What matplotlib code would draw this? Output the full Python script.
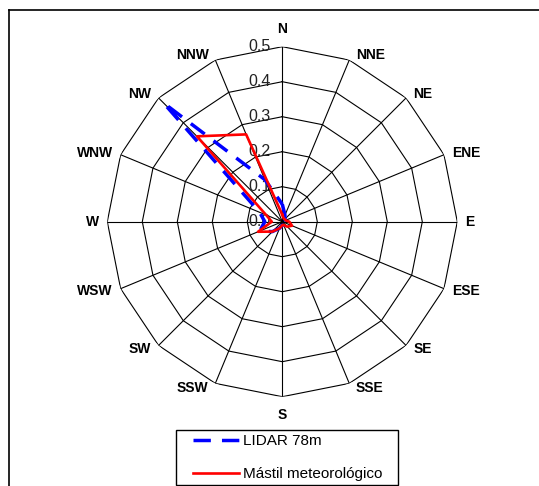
import numpy as np
import matplotlib
matplotlib.use("Agg")
import matplotlib.pyplot as plt
from matplotlib.lines import Line2D
from matplotlib.patches import Rectangle
from matplotlib.transforms import offset_copy

plt.rcParams['font.family'] = ['Liberation Sans', 'DejaVu Sans']

# direcciones y frecuencias relativas
directions = ['N', 'NNE', 'NE', 'ENE', 'E', 'ESE', 'SE', 'SSE',
              'S', 'SSW', 'SW', 'WSW', 'W', 'WNW', 'NW', 'NNW']
lidar_78m = [0.05, 0.02, 0.01, 0.01, 0.02, 0.02, 0.01, 0.01,
             0.01, 0.02, 0.04, 0.07, 0.05, 0.07, 0.48, 0.13]
mastil = [0.02, 0.01, 0.01, 0.01, 0.02, 0.03, 0.02, 0.01,
          0.01, 0.02, 0.04, 0.075, 0.03, 0.05, 0.345, 0.27]
rings = [0.1, 0.2, 0.3, 0.4, 0.5]
ring_labels = ['0.0', '0.1', '0.2', '0.3', '0.4', '0.5']

W, H = 539, 486
fig = plt.figure(figsize=(W / 100, H / 100), dpi=100)

# polar axes placed so centre ~ (282, 222) px, radius 175 px
cx, cy, R = 282.3, 221.7, 175
ax = fig.add_axes([(cx - R) / W, (H - cy - R) / H, 2 * R / W, 2 * R / H],
                  projection='polar')
ax.set_theta_zero_location('N')
ax.set_theta_direction(-1)
ax.set_ylim(0, 0.5)
ax.grid(False)
ax.set_xticks([])
ax.set_yticks([])
ax.spines['polar'].set_visible(False)

theta = np.linspace(0, 2 * np.pi, len(directions), endpoint=False)
theta_c = np.append(theta, theta[0])

# polygon grid
for r in rings:
    ax.plot(theta_c, [r] * len(theta_c), color='black', lw=0.8, zorder=1)
for t in theta:
    ax.plot([t, t], [0, 0.5], color='black', lw=0.8, zorder=1)

# series
l1, = ax.plot(theta_c, lidar_78m + lidar_78m[:1], color='#0000FF', lw=2.5,
              dashes=(5.0, 3.2), zorder=3, label='LIDAR 78m')
l2, = ax.plot(theta_c, mastil + mastil[:1], color='#FF0000', lw=1.9,
              zorder=4, label='Mástil meteorológico')

# radial tick labels
tick_tr = offset_copy(ax.transData, fig=fig, x=-12, y=0, units='dots')
for i, lab in enumerate(ring_labels):
    ax.text(0, i * 0.1, lab, transform=tick_tr, ha='right', va='center',
            fontsize=11.5, color='#222222', zorder=2)

# direction labels
for t, lab in zip(theta, directions):
    s, c = np.sin(t), np.cos(t)
    if abs(s) < 0.01:
        ox, oy, ha = 0, 18 * np.sign(c), 'center'
    else:
        ox = np.sign(s) * (6 + 2 * abs(s))
        oy = 5 * c
        ha = 'left' if s > 0 else 'right'
    tr = offset_copy(ax.transData, fig=fig, x=ox, y=oy, units='dots')
    ax.text(t, 0.5, lab, transform=tr, ha=ha, va='center', fontsize=10,
            fontweight='bold', color='black')

# legend
fig.legend(handles=[l1, l2], loc='center left',
           bbox_to_anchor=(193 / W, (H - 457.5) / H), frameon=False,
           fontsize=11, handlelength=3.0, handletextpad=0.3,
           labelspacing=1.25, borderpad=0, borderaxespad=0)
fig.add_artist(Rectangle((176 / W, 1 / H), 222 / W, 55 / H,
                         transform=fig.transFigure, fill=False,
                         edgecolor='black', lw=1))

# outer frame (top and left only visible)
fig.add_artist(Line2D([8.5 / W, 1], [1 - 10.5 / H] * 2,
                      transform=fig.transFigure, color='black', lw=1.2))
fig.add_artist(Line2D([8.5 / W] * 2, [0, 1 - 10.5 / H],
                      transform=fig.transFigure, color='black', lw=1.2))

fig.savefig('out.png', dpi=100)
